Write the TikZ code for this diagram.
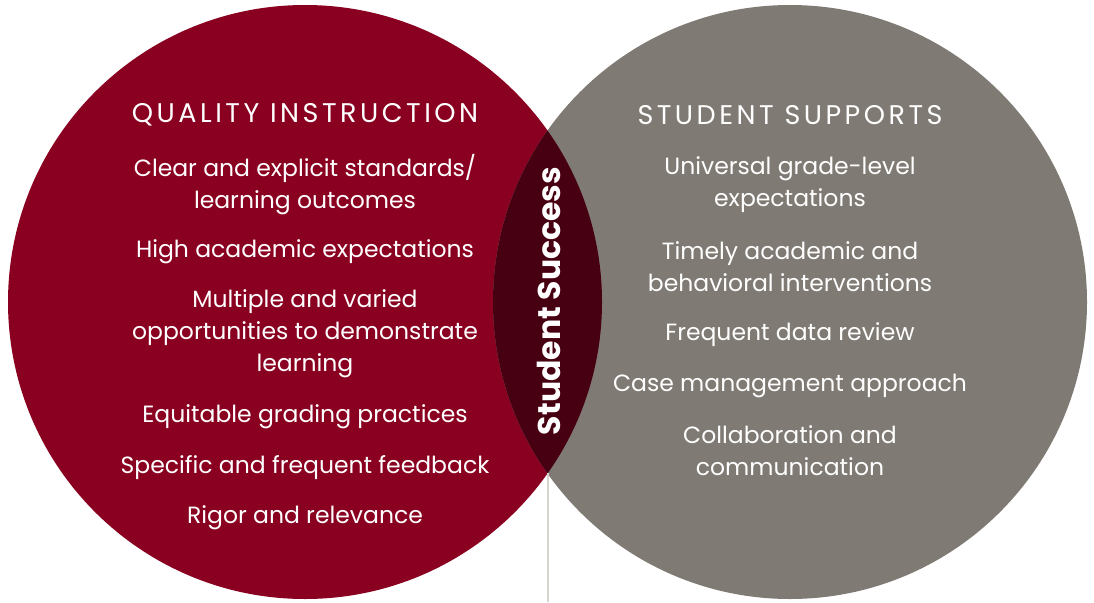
\documentclass[tikz,border=0pt]{standalone}
\usepackage{fontspec}
\setmainfont{Poppins}
\usepackage{tikz}

\definecolor{qired}{HTML}{8A0020}
\definecolor{ssgray}{HTML}{7F7A73}
\definecolor{lensred}{HTML}{460011}
\definecolor{stemgray}{HTML}{D6D5D0}

\begin{document}
\begin{tikzpicture}[x=1pt, y=-1pt,
    heading/.style ={text=white, font=\fontsize{27}{31}\selectfont\addfontfeatures{LetterSpace=13}, inner sep=0pt},
    item/.style ={text=white, font=\fontsize{23.5}{32}\selectfont, align=center, inner sep=0pt}]
   \useasboundingbox (0,0) rectangle (1094,602);
   \fill[qired] (305,302) circle (297);
   \fill[ssgray] (790,302) circle (297);
   \begin{scope}
     \clip (305,302) circle (297);
     \fill[lensred] (790,302) circle (297);
   \end{scope}
   \coordinate (lensbot) at (548,473);
   \coordinate (foot) at (548,602);
   \draw[stemgray, line width=2pt] (lensbot) -- (foot);

   \node[heading] (qi) at (305,115) {QUALITY INSTRUCTION};
   \node[item] (qi1) at (305,185) {Clear and explicit standards/\\learning outcomes};
   \node[item] (qi2) at (305,252) {High academic expectations};
   \node[item] (qi3) at (305,334) {Multiple and varied\\opportunities to demonstrate\\learning};
   \node[item] (qi4) at (305,417) {Equitable grading practices};
   \node[item] (qi5) at (305,468) {Specific and frequent feedback};
   \node[item] (qi6) at (305,518) {Rigor and relevance};

   \node[heading] (ss) at (790,115) {STUDENT SUPPORTS};
   \node[item] (ss1) at (790,185) {Universal grade-level\\expectations};
   \node[item] (ss2) at (790,267) {Timely academic and\\behavioral interventions};
   \node[item] (ss3) at (790,335) {Frequent data review};
   \node[item] (ss4) at (790,386) {Case management approach};
   \node[item] (ss5) at (790,451) {Collaboration and\\communication};

   \node[text=white, font=\fontsize{31.5}{35}\selectfont\bfseries, rotate=90, inner sep=0pt] (succ) at (549,301) {Student Success};
 \end{tikzpicture}
\end{document}
